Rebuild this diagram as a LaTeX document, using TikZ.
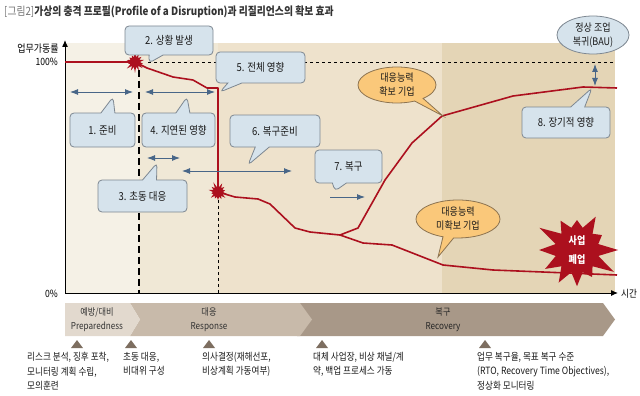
\documentclass[tikz,border=0pt]{standalone}
\usepackage{fontspec}
\setmainfont{Noto Sans CJK KR}[FakeStretch=0.86]
\usepackage{xcolor}
\usetikzlibrary{arrows.meta, math}
\usetikzlibrary{shapes.geometric, shapes.callouts, shapes.symbols}
\definecolor{myred}{RGB}{172,16,30}
\definecolor{myblue}{RGB}{72,102,136}
\definecolor{boxblue}{RGB}{214,227,236}
\definecolor{boxline}{RGB}{125,135,145}
\definecolor{myorange}{RGB}{250,200,122}
\definecolor{ovalline}{RGB}{140,115,80}
\definecolor{bgA}{RGB}{245,241,230}
\definecolor{bgB}{RGB}{240,232,214}
\definecolor{bgC}{RGB}{238,226,204}
\definecolor{bgD}{RGB}{228,213,182}
\definecolor{phaseA}{RGB}{226,217,206}
\definecolor{phaseB}{RGB}{200,186,170}
\definecolor{phaseC}{RGB}{168,152,136}
\definecolor{tricolor}{RGB}{125,110,96}

\tikzset{
  bubble/.style={rectangle callout, rounded corners=4pt, draw=boxline, fill=boxblue,
    line width=0.8pt, inner sep=1pt, callout pointer width=14pt, text=black!90,
    font=\fontsize{11}{12}\selectfont},
  oval/.style={ellipse callout, draw=ovalline, fill=myorange, line width=0.8pt,
    inner sep=0pt, align=center, callout pointer width=12pt, text=black!90,
    font=\fontsize{10.5}{14}\selectfont},
  span/.style={{Latex[length=8pt,width=6pt]}-{Latex[length=8pt,width=6pt]},
    color=myblue, line width=0.9pt},
  boom/.style={starburst, fill=myred, inner sep=0pt, minimum size=22pt,
    starburst point height=6pt, starburst points=14, random starburst=7},
  phase/.style={align=center, text=black!80, font=\fontsize{9.5}{14}\selectfont},
  note/.style={anchor=north west, align=left, inner sep=0pt, text=black!90,
    font=\fontsize{10}{14.5}\selectfont}
}

\begin{document}
\begin{tikzpicture}[x=1pt, y=-1pt]
\tikzmath{
\xo=65;
\xe=615;
\ytop=43;
\yo=293;
\yfull=62;
}
\useasboundingbox (0,0) rectangle (640,396);

%background
\fill[bgA] (\xo,\ytop) rectangle (139,\yo);
\fill[bgB] (139,\ytop) rectangle (218,\yo);
\fill[bgC] (218,\ytop) rectangle (442,\yo);
\fill[bgD] (442,\ytop) rectangle (\xe,\yo);

%guides
\draw[dashed, line width=0.7pt] (148,\yfull) -- (\xe,\yfull);
\draw[dash pattern=on 7pt off 4pt, line width=1.6pt] (139,70) -- (139,\yo);
\draw[dashed, line width=0.6pt] (218,200) -- (218,\yo);

%axes
\draw[-{Latex[length=7pt,width=6pt]}, line width=1pt] (\xo,\yo) -- (618,\yo);
\draw[-{Latex[length=7pt,width=6pt]}, line width=1pt] (\xo,\yo) -- (\xo,40);
\node[anchor=east, inner sep=0pt, font=\fontsize{10.5}{12}\selectfont] (ylab) at (59,49) {업무가동률};
\node[anchor=east, inner sep=0pt, font=\fontsize{10}{12}\selectfont] (yfull) at (58,62) {100\%};
\node[anchor=east, inner sep=0pt, font=\fontsize{10}{12}\selectfont] (yzero) at (58,294) {0\%};
\node[anchor=west, inner sep=0pt, font=\fontsize{10}{12}\selectfont] (xlab) at (621,294) {시간};

%profile
\draw[myred, line width=1.6pt, line join=round]
  (\xo,\yfull) -- (135,\yfull) -- (147,68) -- (173,77) -- (193,80) -- (207,88) -- (218,88)
  -- (218,192) -- (235,197) -- (258,199) -- (270,204) -- (295,228) -- (310,232) -- (340,235)
  -- (358,228) -- (385,180) -- (412,143) -- (442,116) -- (513,96) -- (583,87) -- (617,88);
\draw[myred, line width=1.6pt, line join=round]
  (340,235) -- (363,243) -- (392,245) -- (443,265) -- (493,270) -- (617,275);

%explosions
\node[boom] (hit) at (135,62) {};
\node[boom, random starburst=11] (fall) at (218,192) {};
\node[starburst, fill=myred, minimum width=88pt, minimum height=90pt, inner sep=0pt,
  starburst point height=22pt, starburst points=12, random starburst=3,
  align=center, text=white, font=\bfseries\fontsize{10.5}{19}\selectfont] (close) at (577,250) {사업\\폐업};

%spans
\draw[span] (70,92) -- (133,92);
\draw[span] (145,92) -- (215,92);
\draw[span] (147,158) -- (180,158);
\draw[span] (182,171) -- (292,171);
\draw[-{Latex[length=8pt,width=6pt]}, color=myblue, line width=0.9pt] (330,197) -- (365,197);
\draw[span] (595,64) -- (595,86);

%callouts
\node[bubble, minimum width=65pt, minimum height=34pt, callout absolute pointer={(113,97)}] (prep) at (102.5,130) {1. 준비};
\node[bubble, minimum width=88pt, minimum height=29pt, callout absolute pointer={(149,63)}] (event) at (169,40.5) {2. 상황 발생};
\node[bubble, minimum width=89pt, minimum height=32pt, callout absolute pointer={(157,163)}] (first) at (142.5,196) {3. 초동 대응};
\node[bubble, minimum width=73pt, minimum height=34pt, callout absolute pointer={(187,97)}] (delay) at (178.5,130) {4. 지연된 영향};
\node[bubble, minimum width=89pt, minimum height=31pt, callout absolute pointer={(220,92)}] (full) at (260.5,67.5) {5. 전체 영향};
\node[bubble, minimum width=90pt, minimum height=32pt, callout absolute pointer={(248,165)}] (ready) at (275,131) {6. 복구준비};
\node[bubble, minimum width=67pt, minimum height=33pt, callout absolute pointer={(335,191)}] (recov) at (348.5,166.5) {7. 복구};
\node[bubble, minimum width=88pt, minimum height=31pt, callout absolute pointer={(592,88)}] (long) at (566,122.5) {8. 장기적 영향};

%ovals
\node[ellipse, draw=boxline, fill=boxblue, line width=0.8pt, minimum width=72pt, minimum height=38pt,
  inner sep=0pt, align=center, text=black!90, font=\fontsize{10.5}{14}\selectfont] (bau) at (593,35) {정상 조업\\복귀(BAU)};
\node[oval, minimum width=78pt, minimum height=36pt, callout absolute pointer={(443,116)}] (able) at (397,85) {대응능력\\확보 기업};
\node[oval, minimum width=84pt, minimum height=38pt, callout absolute pointer={(438,257)}] (unable) at (458,219) {대응능력\\미확보 기업};

%phases
\fill[phaseC] (297,303) -- (603,303) -- (615,319.5) -- (603,336) -- (297,336) -- (310,319.5) -- cycle;
\fill[phaseB] (130,303) -- (300,303) -- (312,319.5) -- (300,336) -- (130,336) -- (140,319.5) -- cycle;
\fill[phaseA] (\xo,303) -- (130,303) -- (140,319.5) -- (130,336) -- (\xo,336) -- cycle;
\node[phase] (pprep) at (97,319.5) {예방/대비\\Preparedness};
\node[phase] (presp) at (209,319.5) {대응\\Response};
\node[phase, text=black!85] (precov) at (443,319.5) {복구\\Recovery};

%markers
\foreach \x in {77,131,209,322,485}
  \fill[tricolor] (\x-6,348) -- (\x+6,348) -- (\x,340) -- cycle;

%notes
\node[note] (n1) at (27,352) {리스크 분석, 징후 포착,\\모니터링 계획 수립,\\모의훈련};
\node[note] (n2) at (123,352) {초동 대응,\\비대위 구성};
\node[note] (n3) at (202,352) {의사결정(재해선포,\\비상계획 가동여부)};
\node[note] (n4) at (313,352) {대체 사업장, 비상 채널/계\\약, 백업 프로세스 가동};
\node[note] (n5) at (477,352) {업무 복구율, 목표 복구 수준\\(RTO, Recovery Time Objectives),\\정상화 모니터링};

%title
\node[anchor=west, inner sep=0pt, font=\fontsize{11.4}{13}\selectfont] (title) at (4,12)
  {{\color{black!55}[그림2]}\textbf{\color{black!80}가상의 충격 프로필(Profile of a Disruption)과 리질리언스의 확보 효과}};
\end{tikzpicture}
\end{document}
